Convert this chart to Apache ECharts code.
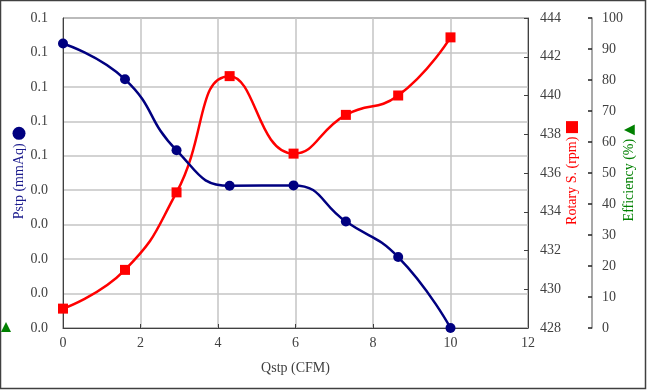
<!DOCTYPE html>
<html>
<head>
<meta charset="utf-8">
<script src="https://cdn.jsdelivr.net/npm/echarts@6/dist/echarts.min.js"></script>
<style>
html,body{margin:0;padding:0;background:#fff;}
#chart{width:647px;height:390px;}
</style>
</head>
<body>
<div id="chart"></div>
<script>
// ---- data ----
const qstp = [0, 1.6, 2.93, 4.3, 5.95, 7.3, 8.65, 10];
const pstp = [0.0826, 0.0722, 0.0516, 0.0413, 0.0414, 0.0309, 0.0206, 0.0];
const rotary = [429, 431, 435, 441, 437, 439, 440, 443];
const pstpTickLabels = ['0.0','0.0','0.0','0.0','0.0','0.1','0.1','0.1','0.1','0.1'];

const FONT = 'Liberation Serif';
const LABEL_COLOR = '#404040';
const NAVY = '#000080', RED = '#FF0000', GREEN = '#008000';

const chart = echarts.init(document.getElementById('chart'), null, {renderer: 'canvas'});
const option = {
  animation: false,
  backgroundColor: '#fff',
  textStyle: {fontFamily: FONT},
  grid: {left: 63, right: 119, top: 18, bottom: 62, show: true, borderColor: '#404040', borderWidth: 1,
    containLabel: false, outerBoundsMode: 'none'},
  xAxis: {
    type: 'value', min: 0, max: 12, interval: 2,
    name: 'Qstp (CFM)', nameLocation: 'middle', nameGap: 33, nameMoveOverlap: false,
    nameTextStyle: {fontFamily: FONT, fontSize: 14, color: LABEL_COLOR},
    axisLine: {lineStyle: {color: '#404040', width: 1}},
    axisTick: {show: true, inside: true, length: 4, lineStyle: {color: '#404040'}},
    axisLabel: {fontFamily: FONT, fontSize: 14, color: LABEL_COLOR, margin: 8},
    splitLine: {show: true, lineStyle: {color: '#c4c4c4', width: 1.5}}
  },
  yAxis: [
    {
      type: 'value', min: 0, max: 0.09, interval: 0.01, position: 'left',
      name: 'Pstp (mmAq) {m| }', nameLocation: 'middle', nameRotate: 90, nameGap: 37, nameMoveOverlap: false,
      nameTextStyle: {fontFamily: FONT, fontSize: 14, color: '#1a1a8c',
        rich: {m: {width: 13, height: 13, backgroundColor: NAVY, borderRadius: 6.5}}},
      axisLine: {show: true, lineStyle: {color: '#404040', width: 1}},
      axisTick: {show: false},
      axisLabel: {fontFamily: FONT, fontSize: 14, color: LABEL_COLOR, margin: 15,
        formatter: (v, i) => pstpTickLabels[i] !== undefined ? pstpTickLabels[i] : v.toFixed(1)},
      splitLine: {show: true, lineStyle: {color: '#c4c4c4', width: 1.5}}
    },
    {
      type: 'value', min: 428, max: 444, interval: 2, position: 'right', offset: 0,
      name: 'Rotary S. (rpm) {m| }', nameLocation: 'middle', nameRotate: 90, nameGap: 37, nameMoveOverlap: false,
      nameTextStyle: {fontFamily: FONT, fontSize: 14, color: RED,
        rich: {m: {width: 12, height: 12, backgroundColor: RED}}},
      axisLine: {show: true, lineStyle: {color: '#404040', width: 1}},
      axisTick: {show: true, inside: true, length: 4, lineStyle: {color: '#404040'}},
      axisLabel: {fontFamily: FONT, fontSize: 14, color: LABEL_COLOR, margin: 12},
      splitLine: {show: false}
    },
    {
      type: 'value', min: 0, max: 100, interval: 10, position: 'right', offset: 64,
      name: 'Efficiency (%) {t|▲}', nameLocation: 'middle', nameRotate: 90, nameGap: 30, nameMoveOverlap: false,
      nameTextStyle: {fontFamily: FONT, fontSize: 14, color: GREEN,
        rich: {t: {fontFamily: 'DejaVu Sans', fontSize: 14, color: GREEN}}},
      axisLine: {show: true, lineStyle: {color: '#8c8c8c', width: 1.5}},
      axisTick: {show: true, inside: true, length: 4, lineStyle: {color: '#202020', width: 1.5}},
      axisLabel: {fontFamily: FONT, fontSize: 14, color: LABEL_COLOR, margin: 10},
      splitLine: {show: false}
    }
  ],
  series: [
    {
      name: 'Pstp', type: 'line', yAxisIndex: 0, smooth: 0.5,
      data: qstp.map((x, i) => [x, pstp[i]]),
      symbol: 'circle', symbolSize: 10,
      lineStyle: {color: NAVY, width: 2.5},
      itemStyle: {color: NAVY},
      clip: false, z: 3
    },
    {
      name: 'Rotary S.', type: 'line', yAxisIndex: 1, smooth: 0.5,
      data: qstp.map((x, i) => [x, rotary[i]]),
      symbol: 'rect', symbolSize: 10,
      lineStyle: {color: RED, width: 2.5},
      itemStyle: {color: RED},
      clip: false, z: 2
    }
  ],
  graphic: [
    {type: 'rect', shape: {x: 0.5, y: 0.5, width: 645, height: 388}, style: {fill: 'none', stroke: '#404040', lineWidth: 1.5}, silent: true, z: 100},
    {type: 'polygon', shape: {points: [[6, 322], [1, 332], [11, 332]]}, style: {fill: GREEN}, silent: true, z: 100}
  ]
};
chart.setOption(option);
</script>
</body>
</html>
